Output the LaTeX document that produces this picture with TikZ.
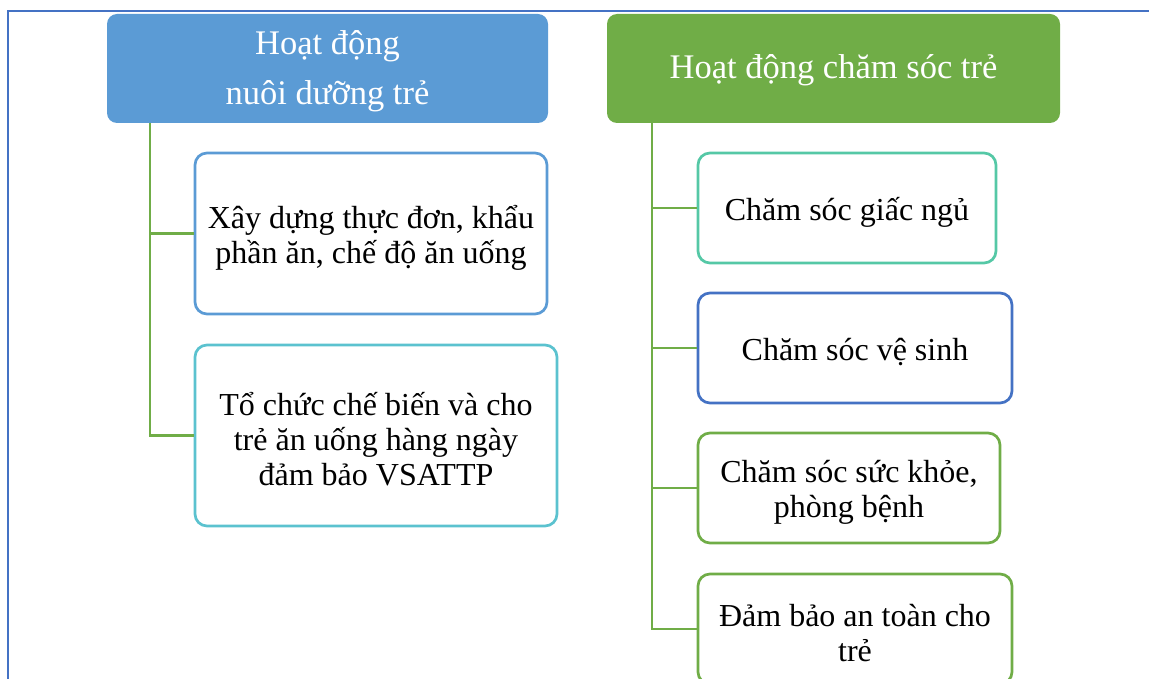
\documentclass[tikz,border=0pt]{standalone}
\usepackage{fontspec}
\setmainfont{Liberation Serif}
\definecolor{frameblue}{HTML}{4472C4}
\definecolor{hdrblue}{HTML}{5B9BD5}
\definecolor{hdrgreen}{HTML}{70AD47}
\definecolor{cyanb}{HTML}{5BC2CF}
\definecolor{tealb}{HTML}{55C8A6}
\definecolor{darkb}{HTML}{4472C4}
\tikzset{
  hdr/.style={rectangle, rounded corners=10pt, inner sep=0pt},
  hdrtxt/.style={inner sep=0pt, text=white, align=center, font=\fontsize{34.5}{50}\selectfont},
  item/.style={rectangle, rounded corners=12pt, line width=2.7pt, fill=white, inner sep=0pt},
  itemtxt/.style={inner sep=0pt, align=center, text=black, font=\fontsize{32}{35}\selectfont},
  conn/.style={draw=hdrgreen, line width=2.8pt},
}
\begin{document}
\begin{tikzpicture}[x=1pt,y=-1pt]
\useasboundingbox (0,0) rectangle (1149,679);
% page frame
\coordinate (fTR) at (1149,11);
\coordinate (fTL) at (8,11);
\coordinate (fBL) at (8,679);
\draw[frameblue, line width=2pt] (fTR) -- (fTL) -- (fBL);
% headers
\node[hdr, fill=hdrblue, minimum width=441pt, minimum height=109pt] (HL) at (327.5,68.5) {};
\node[hdrtxt] (HLt) at ([yshift=-3pt]HL.center) {Hoạt động\\nuôi dưỡng trẻ};
\node[hdr, fill=hdrgreen, minimum width=453pt, minimum height=109pt] (HR) at (833.5,68.5) {};
\node[hdrtxt] (HRt) at ([yshift=-2pt]HR.center) {Hoạt động chăm sóc trẻ};
% left items
\node[item, draw=hdrblue, minimum width=352pt, minimum height=161pt] (L1) at (371,233.5) {};
\node[itemtxt] (L1t) at ([yshift=-4pt]L1.center) {Xây dựng thực đơn, khẩu\\phần ăn, chế độ ăn uống};
\node[item, draw=cyanb, minimum width=362pt, minimum height=181pt] (L2) at (376,435.5) {};
\node[itemtxt] (L2t) at ([yshift=-4pt]L2.center) {Tổ chức chế biến và cho\\trẻ ăn uống hàng ngày\\đảm bảo VSATTP};
% right items
\node[item, draw=tealb, minimum width=298pt, minimum height=110pt] (R1) at (847,208) {};
\node[itemtxt] (R1t) at ([yshift=-4pt]R1.center) {Chăm sóc giấc ngủ};
\node[item, draw=darkb, minimum width=314pt, minimum height=110pt] (R2) at (855,348) {};
\node[itemtxt] (R2t) at ([yshift=-4pt]R2.center) {Chăm sóc vệ sinh};
\node[item, draw=hdrgreen, minimum width=302pt, minimum height=110pt] (R3) at (849,488) {};
\node[itemtxt] (R3t) at ([yshift=-4pt]R3.center) {Chăm sóc sức khỏe,\\phòng bệnh};
\node[item, draw=hdrgreen, minimum width=314pt, minimum height=110pt] (R4) at (855,629) {};
\node[itemtxt] (R4t) at ([yshift=-4pt]R4.center) {Đảm bảo an toàn cho\\trẻ};
% connectors
\coordinate (tL) at (150,123);
\coordinate (tR) at (652,123);
\draw[conn] (tL) |- (L1.west);
\draw[conn] (tL) |- (L2.west);
\draw[conn] (tR) |- (R1.west);
\draw[conn] (tR) |- (R2.west);
\draw[conn] (tR) |- (R3.west);
\draw[conn] (tR) |- (R4.west);
\end{tikzpicture}
\end{document}
